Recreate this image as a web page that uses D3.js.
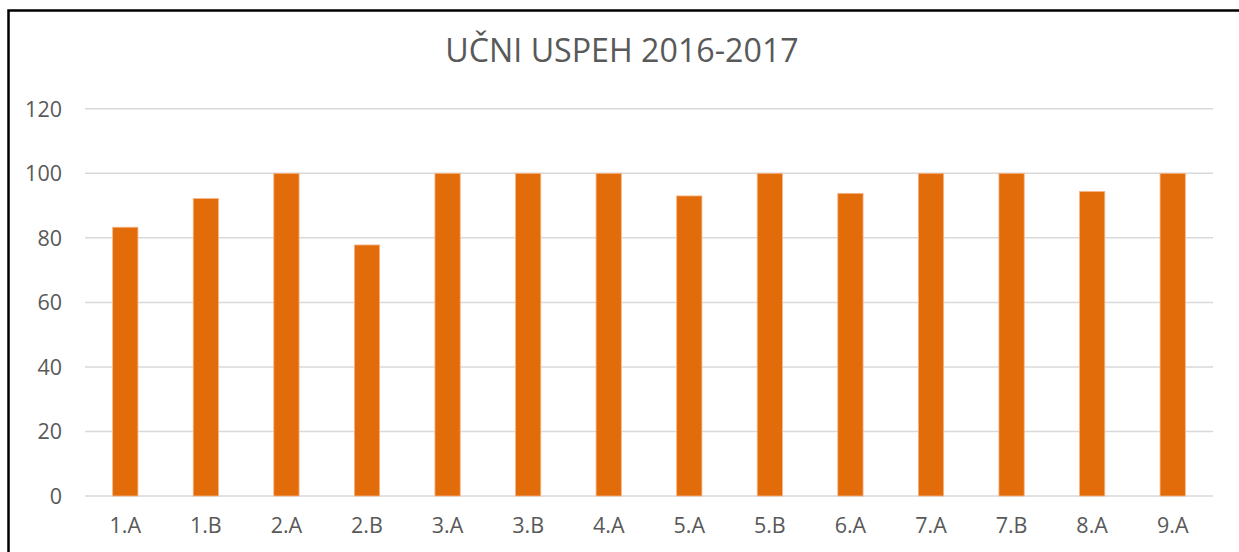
<!DOCTYPE html>
<html lang="sl">
<head>
  <meta charset="UTF-8">
  <title>Učni uspeh 2016-2017</title>
  <script src="https://d3js.org/d3.v7.min.js"></script>
  <style>
    body {
      margin: 0;
      background: #fff;
      font-family: "Open Sans", "Noto Sans", sans-serif;
    }
    svg {
      display: block;
    }
  </style>
</head>
<body>

<svg id="chart" width="1239" height="552"></svg>

<script>
  const title = "UČNI USPEH 2016-2017";
  const classes = ["1.A", "1.B", "2.A", "2.B", "3.A", "3.B", "4.A", "5.A", "5.B", "6.A", "7.A", "7.B", "8.A", "9.A"];
  const success = [83.3, 92.2, 100, 77.8, 100, 100, 100, 93, 100, 93.8, 100, 100, 94.4, 100];
  const yTicks = [0, 20, 40, 60, 80, 100, 120];

  const svg = d3.select("#chart");
  const width = +svg.attr("width");

  // outer frame (runs off the right and bottom edge, like the screenshot)
  svg.append("rect")
    .attr("x", 8.5)
    .attr("y", 10.5)
    .attr("width", width + 20)
    .attr("height", 600)
    .attr("fill", "none")
    .attr("stroke", "#000")
    .attr("stroke-width", 2.5);

  const plot = { left: 85, right: 1213, top: 108.8, bottom: 496 };

  const x = d3.scaleBand()
    .domain(classes)
    .range([plot.left, plot.right])
    .padding(0);

  const y = d3.scaleLinear()
    .domain([0, 120])
    .range([plot.bottom, plot.top]);

  const barW = x.bandwidth() * 0.314;

  // gridlines
  svg.append("g")
    .selectAll("line")
    .data(yTicks)
    .join("line")
    .attr("x1", plot.left)
    .attr("x2", plot.right)
    .attr("y1", d => y(d))
    .attr("y2", d => y(d))
    .attr("stroke", "#d9d9d9")
    .attr("stroke-width", 1.5);

  // y labels
  svg.append("g")
    .selectAll("text")
    .data(yTicks)
    .join("text")
    .attr("x", 62)
    .attr("y", d => y(d))
    .attr("dy", "0.36em")
    .attr("text-anchor", "end")
    .attr("fill", "#595959")
    .style("font-size", "21.5px")
    .text(d => d);

  // bars
  svg.append("g")
    .selectAll("rect")
    .data(classes.map((c, i) => ({ c, v: success[i] })))
    .join("rect")
    .attr("x", d => x(d.c) + (x.bandwidth() - barW) / 2)
    .attr("width", barW)
    .attr("y", d => y(d.v))
    .attr("height", d => y(0) - y(d.v))
    .attr("fill", "#e36c0a")
    .attr("stroke", "#f5b78a")
    .attr("stroke-width", 0.8);

  // x labels
  svg.append("g")
    .selectAll("text")
    .data(classes)
    .join("text")
    .attr("x", d => x(d) + x.bandwidth() / 2)
    .attr("y", 533)
    .attr("text-anchor", "middle")
    .attr("fill", "#595959")
    .style("font-size", "21.5px")
    .text(d => d);

  // title, sized to the width it has in the original
  const t = svg.append("text")
    .attr("x", 622)
    .attr("y", 62)
    .attr("text-anchor", "middle")
    .attr("fill", "#595959")
    .style("font-size", "28px")
    .text(title);
  const w = t.node().getComputedTextLength();
  t.style("font-size", (28 * 354 / w).toFixed(1) + "px");
</script>

</body>
</html>
